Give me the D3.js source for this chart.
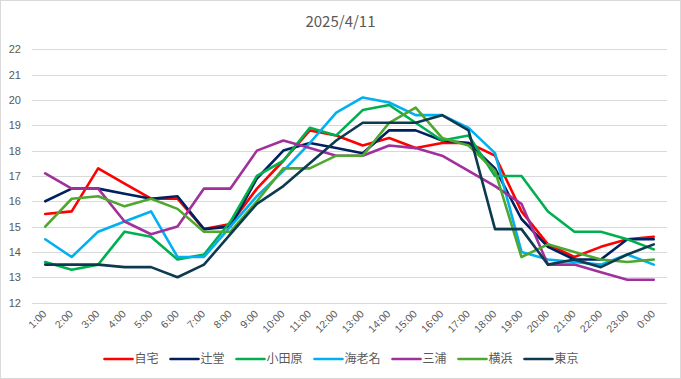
<!DOCTYPE html>
<html><head><meta charset="utf-8">
<script src="https://cdn.jsdelivr.net/npm/d3@7"></script>
<style>body{margin:0;background:#fff;}svg{display:block;font-family:"Noto Sans CJK JP","Liberation Sans",Arial,sans-serif;}</style>
</head><body><svg id="c" width="681" height="379"></svg>
<script>
const title = "2025/4/11";
const hours = ["1:00","2:00","3:00","4:00","5:00","6:00","7:00","8:00","9:00","10:00","11:00","12:00","13:00","14:00","15:00","16:00","17:00","18:00","19:00","20:00","21:00","22:00","23:00","0:00"];
const yTicks = [12,13,14,15,16,17,18,19,20,21,22];
const seriesNames = ["自宅","辻堂","小田原","海老名","三浦","横浜","東京"];
const seriesColors = ["#FF0000","#002060","#00B050","#00B0F0","#A0309C","#4EA72E","#0E3A4F"];
const jitaku   = [15.5,15.6,17.3,16.7,16.1,16.1,14.9,15.1,16.5,17.6,18.8,18.6,18.2,18.5,18.1,18.3,18.3,17.8,15.6,14.3,13.8,14.2,14.5,14.6];
const tsujido  = [16.0,16.5,16.5,16.3,16.1,16.2,14.9,15.0,16.9,18.0,18.3,18.1,17.9,18.8,18.8,18.4,18.3,17.3,15.3,14.2,13.7,13.7,14.5,14.5];
const odawara  = [13.6,13.3,13.5,14.8,14.6,13.7,13.9,15.2,17.0,17.6,18.9,18.6,19.6,19.8,19.1,18.4,18.6,17.0,17.0,15.6,14.8,14.8,14.5,14.1];
const ebina    = [14.5,13.8,14.8,15.2,15.6,13.8,13.8,15.0,16.2,17.2,18.3,19.5,20.1,19.9,19.4,19.4,18.9,17.9,14.0,13.7,13.6,13.5,13.9,13.5];
const miura    = [17.1,16.5,16.5,15.2,14.7,15.0,16.5,16.5,18.0,18.4,18.1,17.8,17.8,18.2,18.1,17.8,17.2,16.6,15.9,13.5,13.5,13.2,12.9,12.9];
const yokohama = [15.0,16.1,16.2,15.8,16.1,15.7,14.8,14.8,16.0,17.3,17.3,17.8,17.8,19.1,19.7,18.5,18.2,17.2,13.8,14.3,14.0,13.7,13.6,13.7];
const tokyo    = [13.5,13.5,13.5,13.4,13.4,13.0,13.5,14.7,15.9,16.6,17.5,18.4,19.1,19.1,19.1,19.4,18.8,14.9,14.9,13.5,13.7,13.4,13.9,14.3];
const seriesValues = [jitaku,tsujido,odawara,ebina,miura,yokohama,tokyo];

(function(){
const svg = d3.select("#c");
const W = 681, H = 379;
svg.append("rect").attr("x",0.5).attr("y",0.5).attr("width",W-1).attr("height",H-1).attr("fill","#fff").attr("stroke","#D9D9D9");

const pLeft = 32, pRight = 667, pTop = 49.3, pBottom = 302.6;
const x = d3.scaleBand().domain(hours).range([pLeft,pRight]);
const y = d3.scaleLinear().domain([12,22]).range([pBottom,pTop]);
const textColor = "#595959";

svg.append("text").attr("x",W/2).attr("y",27).attr("text-anchor","middle")
  .attr("font-size",15).attr("fill",textColor).text(title);

svg.append("g").selectAll("line").data(yTicks).join("line")
  .attr("x1",pLeft).attr("x2",pRight)
  .attr("y1",d=>Math.round(y(d))+0.5).attr("y2",d=>Math.round(y(d))+0.5)
  .attr("stroke","#D9D9D9").attr("stroke-width",1);

const yAxis = d3.axisLeft(y).tickValues(yTicks).tickSize(0).tickPadding(0);
const gy = svg.append("g").attr("transform",`translate(${21},0)`).call(yAxis);
gy.select(".domain").remove();
gy.selectAll("text").attr("font-size",11).attr("fill",textColor).attr("font-family","'Liberation Sans',Arial,sans-serif");

const xAxis = d3.axisBottom(x).tickSize(0).tickPadding(0);
const gx = svg.append("g").attr("transform",`translate(0,${pBottom})`).call(xAxis);
gx.select(".domain").remove();
gx.selectAll(".tick text").attr("font-size",10.5).attr("fill",textColor)
  .attr("font-family","'Liberation Sans',Arial,sans-serif")
  .attr("text-anchor","end").attr("dy",0).attr("y",0)
  .attr("transform","translate(2,12) rotate(-45)");

const line = d3.line().x((d,i)=>x(hours[i])+x.bandwidth()/2).y(d=>y(d));
svg.append("g").selectAll("path").data(seriesValues).join("path")
  .attr("d",line).attr("fill","none")
  .attr("stroke",(d,i)=>seriesColors[i]).attr("stroke-width",2.6)
  .attr("stroke-linejoin","round").attr("stroke-linecap","round");

const lg = svg.append("g");
const fs = 12, sw = 28, gap = 2, itemGap = 12;
const widths = seriesNames.map(n=>n.length*fs);
const total = d3.sum(widths.map(w=>sw+gap+w)) + itemGap*(seriesNames.length-1);
let cx = W/2 - total/2 + 1;
const ly = 359;
seriesNames.forEach((n,i)=>{
  lg.append("line").attr("x1",cx).attr("x2",cx+sw).attr("y1",ly).attr("y2",ly)
    .attr("stroke",seriesColors[i]).attr("stroke-width",2.6).attr("stroke-linecap","round");
  lg.append("text").attr("x",cx+sw+gap).attr("y",ly+4.3).attr("font-size",fs).attr("fill",textColor).text(n);
  cx += sw+gap+widths[i]+itemGap;
});
})();
</script></body></html>
